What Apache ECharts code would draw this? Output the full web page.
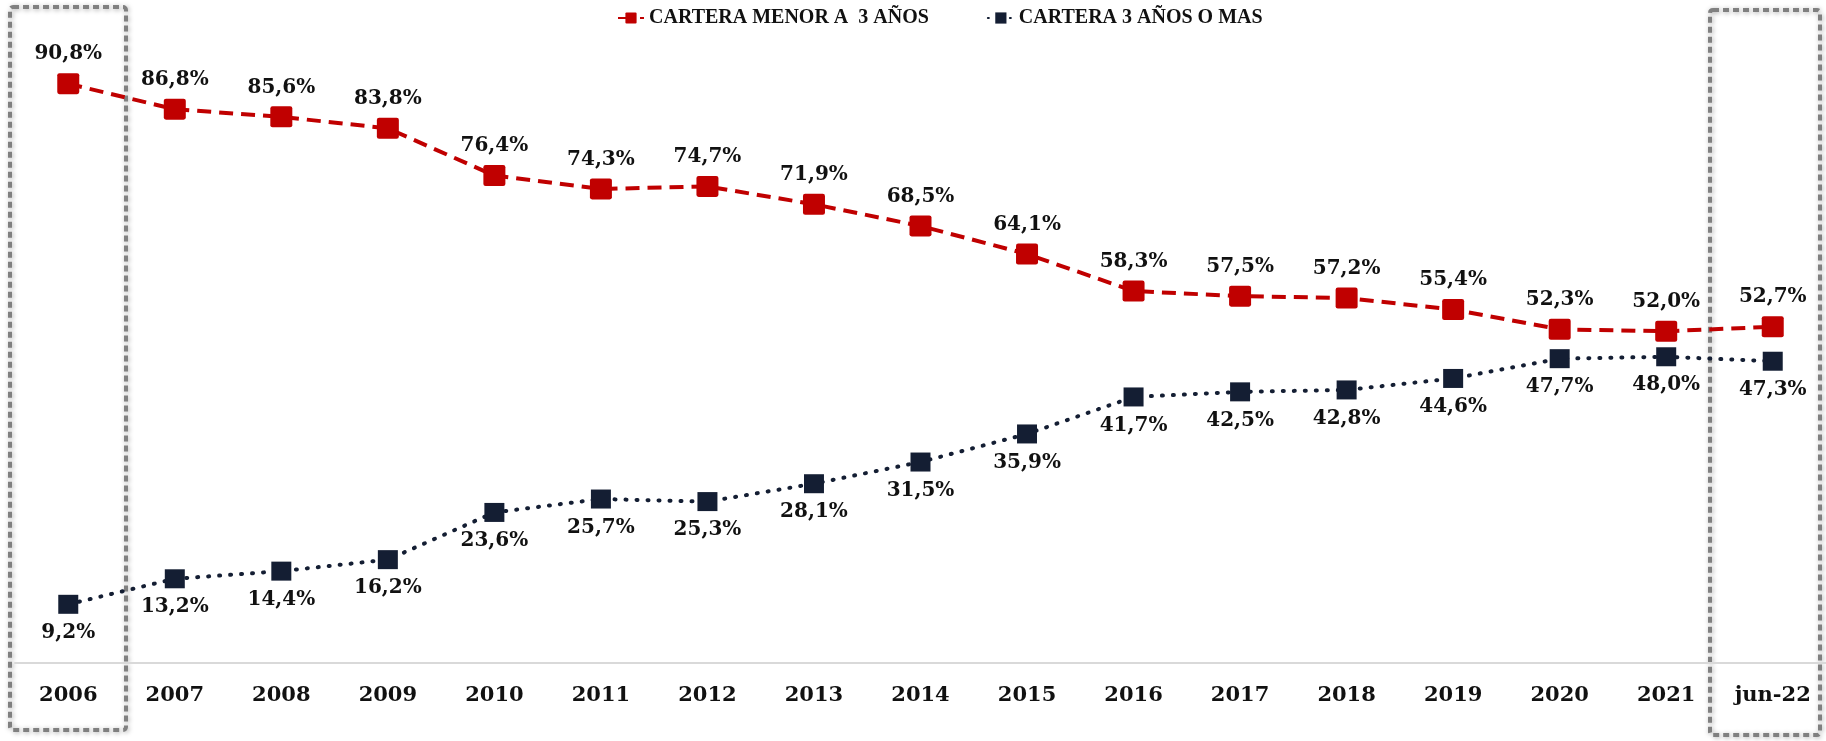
<!DOCTYPE html>
<html>
<head>
<meta charset="utf-8">
<script src="https://cdn.jsdelivr.net/npm/echarts@6/dist/echarts.min.js"></script>
<style>
  html, body { margin: 0; padding: 0; background: #fff; }
  #chartmain { width: 1826px; height: 741px; }
</style>
</head>
<body>
<div id="chartmain"></div>
<script>
var years = ['2006', '2007', '2008', '2009', '2010', '2011', '2012', '2013', '2014',
             '2015', '2016', '2017', '2018', '2019', '2020', '2021', 'jun-22'];
var menor3 = [90.8, 86.8, 85.6, 83.8, 76.4, 74.3, 74.7, 71.9, 68.5, 64.1, 58.3, 57.5, 57.2, 55.4, 52.3, 52.0, 52.7];
var mas3 = [9.2, 13.2, 14.4, 16.2, 23.6, 25.7, 25.3, 28.1, 31.5, 35.9, 41.7, 42.5, 42.8, 44.6, 47.7, 48.0, 47.3];

function pct(p) {
    return p.value.toFixed(1).replace('.', ',') + '%';
}

var labelFont = {
    fontFamily: 'DejaVu Serif',
    fontWeight: 'bold',
    fontSize: 20,
    color: '#111'
};

var myChart = echarts.init(document.getElementById('chartmain'));

var boxStyle = {
    fill: 'none',
    stroke: '#808080',
    lineWidth: 4,
    lineDash: [6, 4],
    shadowBlur: 5,
    shadowColor: 'rgba(0,0,0,0.35)',
    shadowOffsetX: 1,
    shadowOffsetY: 1
};

// square with a slight corner rounding
var sq = 'path://M1,0 L9,0 Q10,0 10,1 L10,9 Q10,10 9,10 L1,10 Q0,10 0,9 L0,1 Q0,0 1,0 Z';

option = {
    animation: false,
    color: ['#C00000', '#141E33'],
    legend: {
        top: 3,
        left: 612,
        itemWidth: 26,
        itemHeight: 14,
        itemGap: 58,
        textStyle: {
            fontFamily: 'Liberation Serif',
            fontWeight: 'bold',
            fontSize: 20,
            color: '#111'
        },
        data: ['CARTERA MENOR A  3 AÑOS', 'CARTERA 3 AÑOS O MAS']
    },
    grid: {
        left: 15,
        right: 0,
        top: 25,
        bottom: 78
    },
    xAxis: {
        type: 'category',
        data: years,
        boundaryGap: true,
        axisLine: { lineStyle: { color: '#d9d9d9', width: 2 } },
        axisTick: { show: false },
        axisLabel: Object.assign({ margin: 22 }, labelFont, { fontSize: 21 })
    },
    yAxis: {
        type: 'value',
        min: 0,
        max: 100,
        show: false,
        splitLine: { show: false }
    },
    series: [
        {
            name: 'CARTERA MENOR A  3 AÑOS',
            type: 'line',
            data: menor3,
            symbol: sq,
            symbolSize: [22, 21],
            lineStyle: { width: 4, type: [14, 8], color: '#C00000' },
            itemStyle: { color: '#C00000' },
            label: Object.assign({ show: true, position: 'top', distance: 9, formatter: pct }, labelFont)
        },
        {
            name: 'CARTERA 3 AÑOS O MAS',
            type: 'line',
            data: mas3,
            symbol: 'rect',
            symbolSize: [20, 19],
            lineStyle: { width: 4, type: [1, 10], cap: 'round', color: '#141E33' },
            itemStyle: { color: '#141E33' },
            label: Object.assign({ show: true, position: 'bottom', distance: 9, formatter: pct }, labelFont)
        }
    ],
    graphic: [
        { type: 'rect', shape: { x: 10, y: 7, width: 116, height: 723, r: 3 }, style: boxStyle, silent: true },
        { type: 'rect', shape: { x: 1710, y: 10, width: 110, height: 725, r: 3 }, style: boxStyle, silent: true }
    ]
};

myChart.setOption(option);
</script>
</body>
</html>
